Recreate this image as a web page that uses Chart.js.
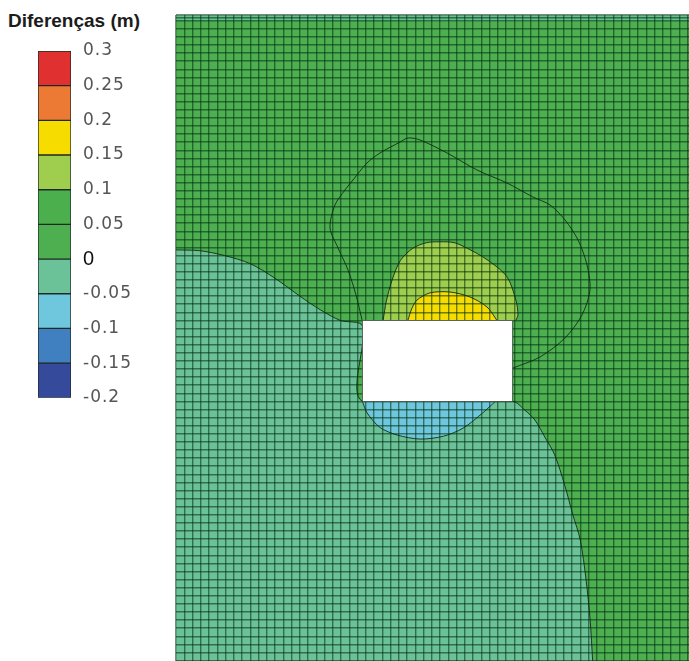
<!DOCTYPE html>
<html>
<head>
<meta charset="utf-8">
<script src="https://cdn.jsdelivr.net/npm/chart.js@4.4.1/dist/chart.umd.min.js"></script>
<style>
  html, body { margin: 0; padding: 0; background: #fff; width: 689px; height: 661px; overflow: hidden; }
  #legendTitle { position: absolute; left: 8px; top: 10px; font: bold 19px "Liberation Sans", Arial, sans-serif; color: #1c1c1c; white-space: nowrap; }
  #bar { position: absolute; left: 0; top: 0; }
  #mesh { position: absolute; left: 160px; top: 0; }
</style>
</head>
<body>
<div id="legendTitle">Diferenças (m)</div>
<canvas id="bar" width="165" height="420"></canvas>
<canvas id="mesh" width="529" height="661"></canvas>
<script>
// Colour classes of the water-level difference (m)
const levelBounds = [-0.2, -0.15, -0.1, -0.05, 0, 0.05, 0.1, 0.15, 0.2, 0.25, 0.3];
const levelLabels = ['-0.2', '-0.15', '-0.1', '-0.05', '0', '0.05', '0.1', '0.15', '0.2', '0.25', '0.3'];
const levelColors = ['#354a9a', '#4080c0', '#6ec7dc', '#6cc298', '#4daf50', '#4caf4d', '#9fcd4d', '#f7dc00', '#ec7a35', '#e0302f'];

// Mesh extent in cell units
const meshX = [0, 62.18];
const meshY = [-0.7, 79.05];
const meshExtraRows = [-0.7, -0.42];

// Structure (no-data block)
const holeX = [22.6, 40.8];
const holeY = [37, 47];

// Contour zones, [x, y] in cell units
const zoneTopStrip = [[0, -0.7], [62.18, -0.7], [62.18, 0], [0, 0]];
const zoneMinus05 = [[0, 28.3], [2.9, 28.4], [5.9, 29.0], [9.0, 30.0], [12.0, 31.8], [15.0, 34.0], [17.5, 35.7], [19.9, 37.0], [22.6, 37.7],
  [22.6, 47], [40.8, 47], [42.3, 48.1], [43.5, 49.3], [44.7, 51.4], [45.9, 53.6], [47.1, 57.3], [48.1, 61.0], [49.0, 64.1],
  [49.7, 69.0], [50.2, 74.0], [50.5, 79.0], [50.6, 80.5], [0, 80.5]];
const zoneMinus10 = [[22.6, 47], [23.15, 48.4], [24.7, 50.2], [26.8, 51.15], [29.6, 51.65], [32.4, 51.3], [34.8, 50.3], [37.2, 48.4], [38.7, 47]];
const zonePlus10 = [[25.1, 37], [25.5, 34.6], [26.2, 32.0], [27.2, 29.6], [28.7, 28.1], [30.4, 27.4], [32.0, 27.3], [33.7, 27.4],
  [35.3, 28.1], [37.7, 29.5], [40.1, 31.6], [41.2, 34.5], [41.45, 36.3], [41.2, 37]];
const zonePlus15 = [[28.1, 37], [28.6, 35.5], [29.2, 34.5], [30.8, 33.6], [33.2, 33.5], [35.6, 34.1], [37.7, 35.35], [38.9, 37]];
const contourPlus05 = [[22.55, 36.95], [21.82, 33.88], [20.85, 30.78], [19.64, 28.06], [18.67, 25.59], [19.27, 22.75], [20.48, 20.9],
  [21.45, 19.67], [23.15, 17.57], [24.73, 16.33], [27.15, 14.99], [28.12, 14.48], [29.58, 14.73], [32.85, 16.33], [36.48, 18.43],
  [40.12, 20.04], [43.27, 21.77], [45.33, 22.75], [47.15, 24.6], [48.73, 27.07], [49.82, 30.16], [50.18, 33.25], [49.21, 36.33],
  [47.15, 39.17], [44.12, 41.52], [40.85, 42.88]];

const FONT = '"Liberation Sans", Arial, sans-serif';
const contourColor = 'rgba(22,42,24,0.9)';
const gridColor = 'rgba(0,45,15,0.55)';

// ---------- colour bar ----------
const letterSpacingPlugin = {
  id: 'letterSpacing',
  beforeDraw(chart) { chart.ctx.letterSpacing = '1px'; },
  afterDraw(chart) { chart.ctx.letterSpacing = '0px'; }
};

new Chart(document.getElementById('bar'), {
  type: 'bar',
  data: {
    labels: [''],
    datasets: levelColors.map((c, i) => ({
      data: [[levelBounds[i], levelBounds[i + 1]]],
      backgroundColor: c,
      borderColor: '#1f2a26',
      borderWidth: 1,
      borderSkipped: false,
      grouped: false,
      barPercentage: 1,
      categoryPercentage: 1
    }))
  },
  options: {
    responsive: false,
    animation: false,
    layout: { padding: { left: 38, top: 51, bottom: 19, right: 0 } },
    plugins: { legend: { display: false }, tooltip: { enabled: false } },
    scales: {
      x: { display: false },
      y: {
        position: 'right',
        min: levelBounds[0],
        max: levelBounds[levelBounds.length - 1],
        grid: { display: false, drawTicks: false },
        border: { display: false },
        afterBuildTicks: s => { s.ticks = levelBounds.map(v => ({ value: v })); },
        afterFit: s => { s.width = 94; },
        ticks: {
          padding: 12,
          callback: (v, i) => levelLabels[i],
          font: ctx => (ctx.tick && ctx.tick.value === 0) ? { family: FONT, size: 20 } : { family: '"DejaVu Sans", sans-serif', size: 17 },
          color: ctx => (ctx.tick && ctx.tick.value === 0) ? '#111' : '#555'
        }
      }
    }
  },
  plugins: [letterSpacingPlugin]
});

// ---------- mesh with contour zones ----------
const toPts = a => a.map(([x, y]) => ({ x, y }));
const zone = (pts, color, order, border = 1) => ({
  data: toPts(pts), showLine: true, fill: 'shape', backgroundColor: color,
  borderColor: contourColor, borderWidth: border, pointRadius: 0, pointHoverRadius: 0, tension: 0.3, order
});

const backgroundPlugin = {
  id: 'meshBackground',
  beforeDraw(chart) {
    const { ctx, chartArea: a } = chart;
    ctx.save();
    ctx.fillStyle = levelColors[4];
    ctx.fillRect(a.left, a.top, a.right - a.left, a.bottom - a.top);
    ctx.restore();
  }
};

const holePlugin = {
  id: 'structure',
  afterDraw(chart) {
    const { ctx, scales: { x, y } } = chart;
    const l = x.getPixelForValue(holeX[0]), r = x.getPixelForValue(holeX[1]);
    const t = y.getPixelForValue(holeY[0]), b = y.getPixelForValue(holeY[1]);
    ctx.save();
    ctx.fillStyle = '#ffffff';
    ctx.fillRect(l, Math.min(t, b), r - l, Math.abs(b - t));
    ctx.strokeStyle = 'rgba(60,70,60,0.75)';
    ctx.lineWidth = 1;
    ctx.strokeRect(Math.round(l) + 0.5, Math.round(Math.min(t, b)) + 0.5, Math.round(r - l), Math.round(Math.abs(b - t)));
    ctx.restore();
  }
};

const intRange = (a, b) => { const out = []; for (let v = Math.ceil(a); v <= Math.floor(b); v++) out.push(v); return out; };

new Chart(document.getElementById('mesh'), {
  type: 'scatter',
  data: {
    datasets: [
      zone(zoneTopStrip, 'rgba(108,194,152,0.85)', 7, 0),
      zone(zoneMinus05, levelColors[3], 6),
      zone(zonePlus10, levelColors[6], 5),
      zone(zonePlus15, levelColors[7], 4),
      zone(zoneMinus10, levelColors[2], 3),
      { data: toPts(contourPlus05), showLine: true, fill: false, borderColor: contourColor, borderWidth: 1,
        pointRadius: 0, pointHoverRadius: 0, tension: 0.3, order: 1 }
    ]
  },
  options: {
    responsive: false,
    animation: false,
    layout: { padding: { left: 16, top: 15, right: 0, bottom: 0 } },
    plugins: { legend: { display: false }, tooltip: { enabled: false } },
    scales: {
      x: {
        type: 'linear', min: meshX[0], max: meshX[1],
        ticks: { display: false, autoSkip: false },
        grid: { color: gridColor, lineWidth: 1.4, drawTicks: false, z: 1 },
        border: { display: false },
        afterBuildTicks: s => { s.ticks = intRange(meshX[0], meshX[1]).map(v => ({ value: v })); }
      },
      y: {
        type: 'linear', min: meshY[0], max: meshY[1], reverse: true,
        ticks: { display: false, autoSkip: false },
        grid: { color: gridColor, lineWidth: 1.4, drawTicks: false, z: 1 },
        border: { display: false },
        afterBuildTicks: s => { s.ticks = meshExtraRows.concat(intRange(0, meshY[1])).map(v => ({ value: v })); }
      }
    }
  },
  plugins: [backgroundPlugin, holePlugin]
});
</script>
</body>
</html>
